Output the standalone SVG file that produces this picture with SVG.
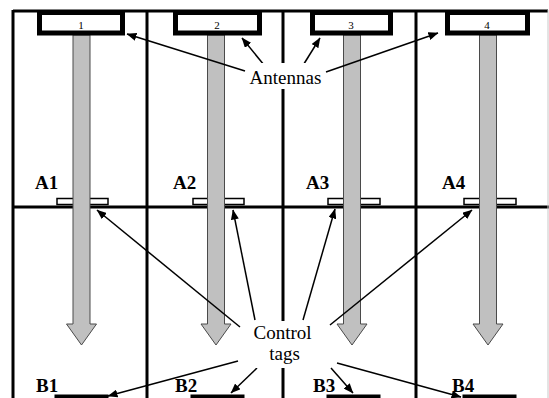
<svg xmlns="http://www.w3.org/2000/svg" width="549" height="398" viewBox="0 0 549 398">
<style>
.grid{stroke:#000;stroke-width:3;fill:none}
.ant{fill:#fff;stroke:#000;stroke-width:5}
.tag{fill:#fff;stroke:#000;stroke-width:1.5}
.btag{fill:#000;stroke:#000;stroke-width:1}
.bar{fill:#c0c0c0;stroke:#4a4a4a;stroke-width:1}
.num{font-family:"Liberation Serif",serif;font-size:11px;text-anchor:middle;fill:#000}
.lbl{font-family:"Liberation Serif",serif;font-size:19px;font-weight:bold;fill:#000}
.cap{font-family:"Liberation Serif",serif;font-size:19px;text-anchor:middle;fill:#000}
.con{stroke:#000;stroke-width:1.5;fill:none;marker-end:url(#ah)}
</style>
<defs>
<marker id="ah" viewBox="0 0 10 8" refX="9.5" refY="4" markerWidth="10" markerHeight="8" markerUnits="userSpaceOnUse" orient="auto">
<path d="M0,0 L10,4 L0,8 Z" fill="#000"/>
</marker>
<path id="bararrow" class="bar" d="M-8.5,35 L8.5,35 L8.5,324 L15,324 L0,345 L-15,324 L-8.5,324 Z"/>
</defs>
<rect width="549" height="398" fill="#fff"/>
<g id="frame">
<line class="grid" x1="13" y1="11" x2="548" y2="11"/>
<line class="grid" x1="13" y1="10" x2="13" y2="398"/>
<line class="grid" x1="147" y1="10" x2="147" y2="398"/>
<line class="grid" x1="283" y1="10" x2="283" y2="398"/>
<line class="grid" x1="416" y1="10" x2="416" y2="398"/>
<line class="grid" x1="13" y1="207" x2="549" y2="207"/>
<line x1="548" y1="10" x2="548" y2="398" stroke="#c8c8c8" stroke-width="1"/>
</g>
<g id="tagA1"><rect class="tag" x="57" y="198.5" width="51" height="6"/></g>
<g id="tagA2"><rect class="tag" x="193" y="198.5" width="51" height="6"/></g>
<g id="tagA3"><rect class="tag" x="328" y="198.5" width="52" height="6"/></g>
<g id="tagA4"><rect class="tag" x="464" y="198.5" width="52" height="6"/></g>
<g id="bars">
<use href="#bararrow" transform="translate(81.5,0)"/>
<use href="#bararrow" transform="translate(216,0)"/>
<use href="#bararrow" transform="translate(352,0)"/>
<use href="#bararrow" transform="translate(488,0)"/>
</g>
<g id="antenna1"><rect class="ant" x="39.5" y="12.5" width="83" height="20.5"/><text class="num" x="81" y="29">1</text></g>
<g id="antenna2"><rect class="ant" x="175.5" y="12.5" width="84" height="20.5"/><text class="num" x="217" y="29">2</text></g>
<g id="antenna3"><rect class="ant" x="312.5" y="12.5" width="78" height="20.5"/><text class="num" x="351" y="29">3</text></g>
<g id="antenna4"><rect class="ant" x="447.5" y="12.5" width="80" height="20.5"/><text class="num" x="487" y="29">4</text></g>
<g id="tagB1"><rect class="btag" x="55" y="395" width="53" height="5"/></g>
<g id="tagB2"><rect class="btag" x="191" y="395" width="53" height="5"/></g>
<g id="tagB3"><rect class="btag" x="327" y="395" width="53" height="5"/></g>
<g id="tagB4"><rect class="btag" x="463" y="395" width="53" height="5"/></g>
<g id="labels">
<text class="lbl" x="35" y="189">A1</text>
<text class="lbl" x="173" y="189">A2</text>
<text class="lbl" x="306" y="189">A3</text>
<text class="lbl" x="442" y="189">A4</text>
<text class="lbl" x="36" y="392">B1</text>
<text class="lbl" x="175" y="392">B2</text>
<text class="lbl" x="313" y="392">B3</text>
<text class="lbl" x="452" y="392">B4</text>
</g>
<g id="connectors">
<line class="con" x1="245" y1="71" x2="127" y2="34"/>
<line class="con" x1="264" y1="65" x2="242" y2="38"/>
<line class="con" x1="302" y1="67" x2="320" y2="38"/>
<line class="con" x1="326" y1="72" x2="438" y2="33"/>
<line class="con" x1="240" y1="327" x2="97" y2="210"/>
<line class="con" x1="255" y1="320" x2="233" y2="210"/>
<line class="con" x1="303" y1="320" x2="335" y2="209"/>
<line class="con" x1="330" y1="325" x2="472" y2="210"/>
<line class="con" x1="238" y1="361" x2="108" y2="396"/>
<line class="con" x1="257" y1="368" x2="231" y2="393"/>
<line class="con" x1="331" y1="368" x2="353" y2="393"/>
<line class="con" x1="337" y1="363" x2="461" y2="397"/>
</g>
<g id="antennasLabel">
<rect x="247" y="63" width="77" height="26" fill="#fff"/>
<text class="cap" x="285.5" y="84">Antennas</text>
</g>
<g id="controlTagsLabel">
<rect x="250" y="321" width="66" height="47" fill="#fff"/>
<text class="cap" x="282.5" y="339">Control</text>
<text class="cap" x="284.5" y="360">tags</text>
</g>
</svg>
